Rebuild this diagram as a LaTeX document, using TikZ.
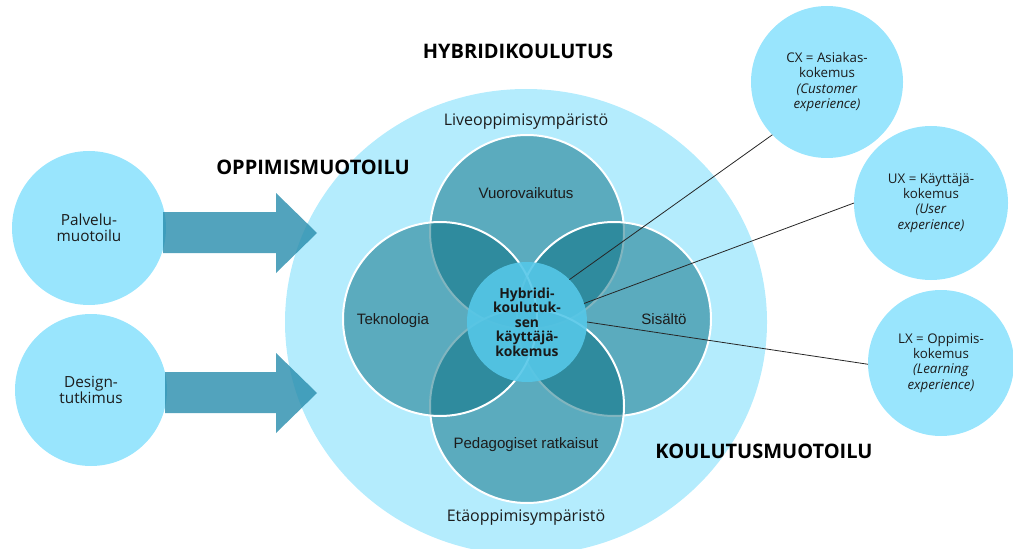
\documentclass[tikz,border=0pt]{standalone}
\usepackage{fontspec}
\setmainfont{Open Sans}
\newfontfamily\arialfont{Liberation Sans}
\usetikzlibrary{shapes.geometric}
\definecolor{ringc}{RGB}{180,236,253}
\definecolor{sidec}{RGB}{153,229,253}
\definecolor{petalc}{RGB}{4,108,128}
\definecolor{hubc}{RGB}{85,199,232}
\definecolor{arrowc}{RGB}{39,140,172}
\definecolor{txt}{RGB}{28,28,28}

\begin{document}
\begin{tikzpicture}[x=0.75pt,y=-0.75pt,
  every node/.style={inner sep=0pt, outer sep=0pt},
  sidecircle/.style={circle, fill=sidec, align=center, text=txt,
    font=\fontsize{10}{11.5}\selectfont},
  leftcircle/.style={sidecircle, font=\fontsize{11.5}{12}\selectfont},
  petal/.style={circle, minimum size=145.5pt, fill=petalc, fill opacity=0.5,
    draw=white, draw opacity=1, line width=1.5pt},
  petallabel/.style={text=txt, font=\arialfont\fontsize{11.3}{13}\selectfont},
  envlabel/.style={text=txt, font=\fontsize{12}{13}\selectfont},
  title/.style={text=black, font=\bfseries\fontsize{15}{17}\selectfont},
  blockarrow/.style={fill=arrowc, fill opacity=0.8},
  link/.style={draw=black!85, line width=0.6pt}]

\useasboundingbox (0,0) rectangle (1013,549);

% outer ring: the hybrid education field
\node[ellipse, fill=ringc, minimum width=361.5pt, minimum height=349.5pt]
  (ring) at (526,322) {};

% source disciplines on the left
\node[leftcircle, minimum size=115.5pt] (palvelu) at (89,228) {Palvelu-\\muotoilu};
\node[leftcircle, minimum size=114pt] (design) at (91,390) {Design-\\tutkimus};

% block arrows feeding into the ring
\fill[blockarrow] (163,212) -- (276,212) -- (276,193) -- (317,233)
  -- (276,273) -- (276,253) -- (163,253) -- cycle;
\fill[blockarrow] (165,372) -- (276,372) -- (276,353) -- (317,393)
  -- (276,433) -- (276,413) -- (165,413) -- cycle;

% four overlapping petals
\node[petal] (top) at (527,232) {};
\node[petal] (right) at (614,319) {};
\node[petal] (bottom) at (527,406) {};
\node[petal] (left) at (440,319) {};

% central hub
\node[circle, fill=hubc, fill opacity=0.9, text opacity=1, minimum size=90pt,
  align=center, text=black!90, font=\bfseries\fontsize{10.4}{10.8}\selectfont]
  (hub) at (527,322) {Hybridi-\\koulutuk-\\sen\\käyttäjä-\\kokemus};

% experience circles on the right
\node[sidecircle, minimum size=114pt] (cx) at (827,82)
  {CX = Asiakas-\\kokemus\\\textit{(Customer}\\\textit{experience)}};
\node[sidecircle, minimum size=115.5pt] (ux) at (931,203)
  {UX = Käyttäjä-\\kokemus\\\textit{(User}\\\textit{experience)}};
\node[sidecircle, minimum size=109.5pt] (lx) at (941,363)
  {LX = Oppimis-\\kokemus\\\textit{(Learning}\\\textit{experience)}};

% connectors from the hub
\draw[link] (hub.45.7) -- (cx.224.5);
\draw[link] (hub.18.7) -- (ux.180);
\draw[link] (hub.0) -- (lx.181);

% petal labels
\node[petallabel] (lvuoro) at (526,193) {Vuorovaikutus};
\node[petallabel] (ltekno) at (393,321) {Teknologia};
\node[petallabel] (lsisalto) at (664,319) {Sisältö};
\node[petallabel] (lpeda) at (526,445) {Pedagogiset ratkaisut};

% environment labels
\node[envlabel] (live) at (526,122) {Liveoppimisympäristö};
\node[envlabel] (eta) at (526,518) {Etäoppimisympäristö};

% titles
\node[title] (thybrid) at (518,51) {HYBRIDIKOULUTUS};
\node[title] (toppi) at (313,167) {OPPIMISMUOTOILU};
\node[title] (tkoulu) at (764,451) {KOULUTUSMUOTOILU};
\end{tikzpicture}
\end{document}
